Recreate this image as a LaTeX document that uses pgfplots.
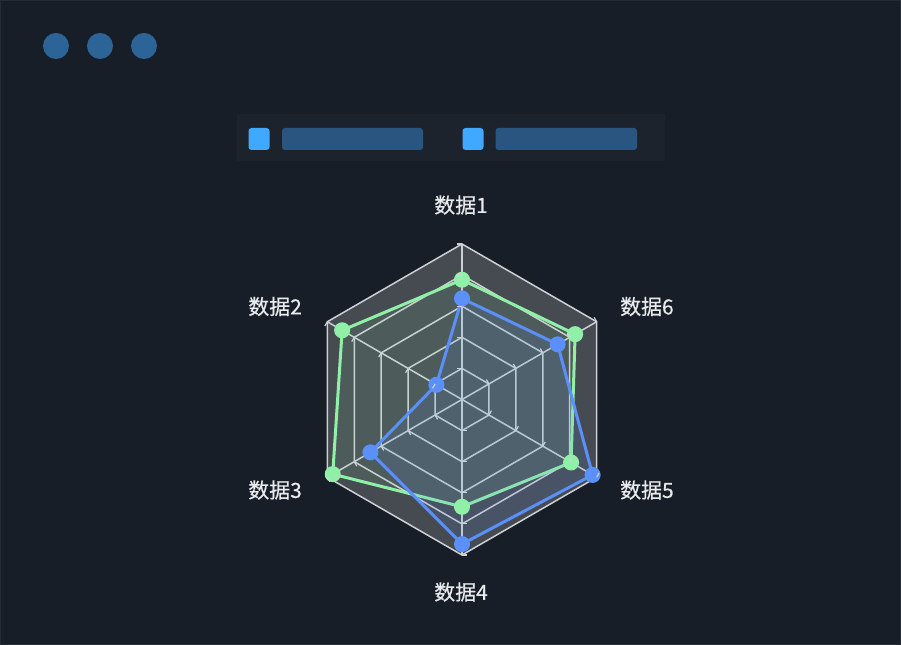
\documentclass[border=0pt]{standalone}
\usepackage{pgfplots}
\pgfplotsset{compat=1.18}
\usepackage{fontspec}
\setmainfont{Noto Sans CJK SC}[FakeBold=0.5]

\definecolor{bg}{RGB}{24,30,39}
\definecolor{edge}{RGB}{38,44,53}
\definecolor{legbg}{RGB}{28,35,44}
\definecolor{dotc}{RGB}{45,100,152}
\definecolor{legsq}{RGB}{64,169,255}
\definecolor{legbar}{RGB}{42,85,128}
\definecolor{gridc}{RGB}{205,208,212}
\definecolor{sgreen}{RGB}{145,240,168}
\definecolor{sblue}{RGB}{91,143,249}
\definecolor{labc}{RGB}{232,234,237}

\begin{document}
\begin{tikzpicture}[x=1bp,y=1bp]
\useasboundingbox (0,0) rectangle (901,645);
\fill[bg] (0,0) rectangle (901,645);
\draw[edge, line width=1bp] (0.5,0.5) rectangle (900.5,644.5);

% window dots
\foreach \cx in {56,100,144} \fill[dotc] (\cx,599) circle (13);

% legend (placeholder bars)
\fill[legbg] (237,484) rectangle (665,531);
\fill[legsq, rounded corners=3] (248.5,495) rectangle (269.5,517);
\fill[legbar, rounded corners=3] (282,495) rectangle (423,517);
\fill[legsq, rounded corners=3] (462.5,495) rectangle (483.5,517);
\fill[legbar, rounded corners=3] (495.5,495) rectangle (637,517);

\coordinate (c) at (462,245.5);

\begin{axis}[
    hide axis,
    x=1.555bp, y=1.555bp,
    xmin=-100, xmax=100, ymin=-100, ymax=100,
    at={(c)}, anchor=origin,
    clip=false,
    every axis plot/.append style={data cs=polar},
    gridline/.style={draw=gridc, line width=1.5bp, mark=none, forget plot},
  ]
  % split area
  \addplot[draw=none, fill=white, fill opacity=0.2, mark=none, forget plot]
    coordinates {(90,100)(150,100)(210,100)(270,100)(330,100)(390,100)} -- cycle;
  % rings
  \pgfplotsinvokeforeach{20,40,60,80,100}{
    \addplot[gridline] coordinates {(90,#1)(150,#1)(210,#1)(270,#1)(330,#1)(390,#1)} -- cycle;
  }
  % spokes
  \pgfplotsinvokeforeach{90,150,210,270,330,30}{
    \addplot[gridline] coordinates {(#1,0)(#1,100)};
  }
  % series 1 (green)
  \addplot[draw=sgreen, line width=3bp, line join=round, fill=sgreen, fill opacity=0.1,
    mark=*, mark size=6.5bp, mark options={fill=sgreen, draw=none, fill opacity=1}]
    coordinates {(90,77)(150,89)(210,96)(270,69)(330,81)(390,84)} -- cycle;
  % series 2 (blue)
  \addplot[draw=sblue, line width=3bp, line join=round, fill=sblue, fill opacity=0.12,
    mark=*, mark size=6.5bp, mark options={fill=sblue, draw=none, fill opacity=1}]
    coordinates {(90,65)(150,19)(210,68)(270,93)(330,97)(390,71)} -- cycle;
\end{axis}

% small axis ticks
\foreach \a in {90,150,210,270,330,30}
  \foreach \r in {31.1,62.2,93.3,124.4,155.5}
    \draw[gridc, line width=1.2bp] ([shift={(\a:\r)}]c) -- ++(\a+90:5);

% indicator names
\begin{scope}[every node/.style={labc, inner sep=0, font=\fontsize{21}{24}\selectfont}]
  \node at (461,440) {数据1};
  \node[anchor=east] at (302,338.5) {数据2};
  \node[anchor=east] at (302,155) {数据3};
  \node at (461,53) {数据4};
  \node[anchor=west] at (620,155) {数据5};
  \node[anchor=west] at (620,338.5) {数据6};
\end{scope}
\end{tikzpicture}
\end{document}
